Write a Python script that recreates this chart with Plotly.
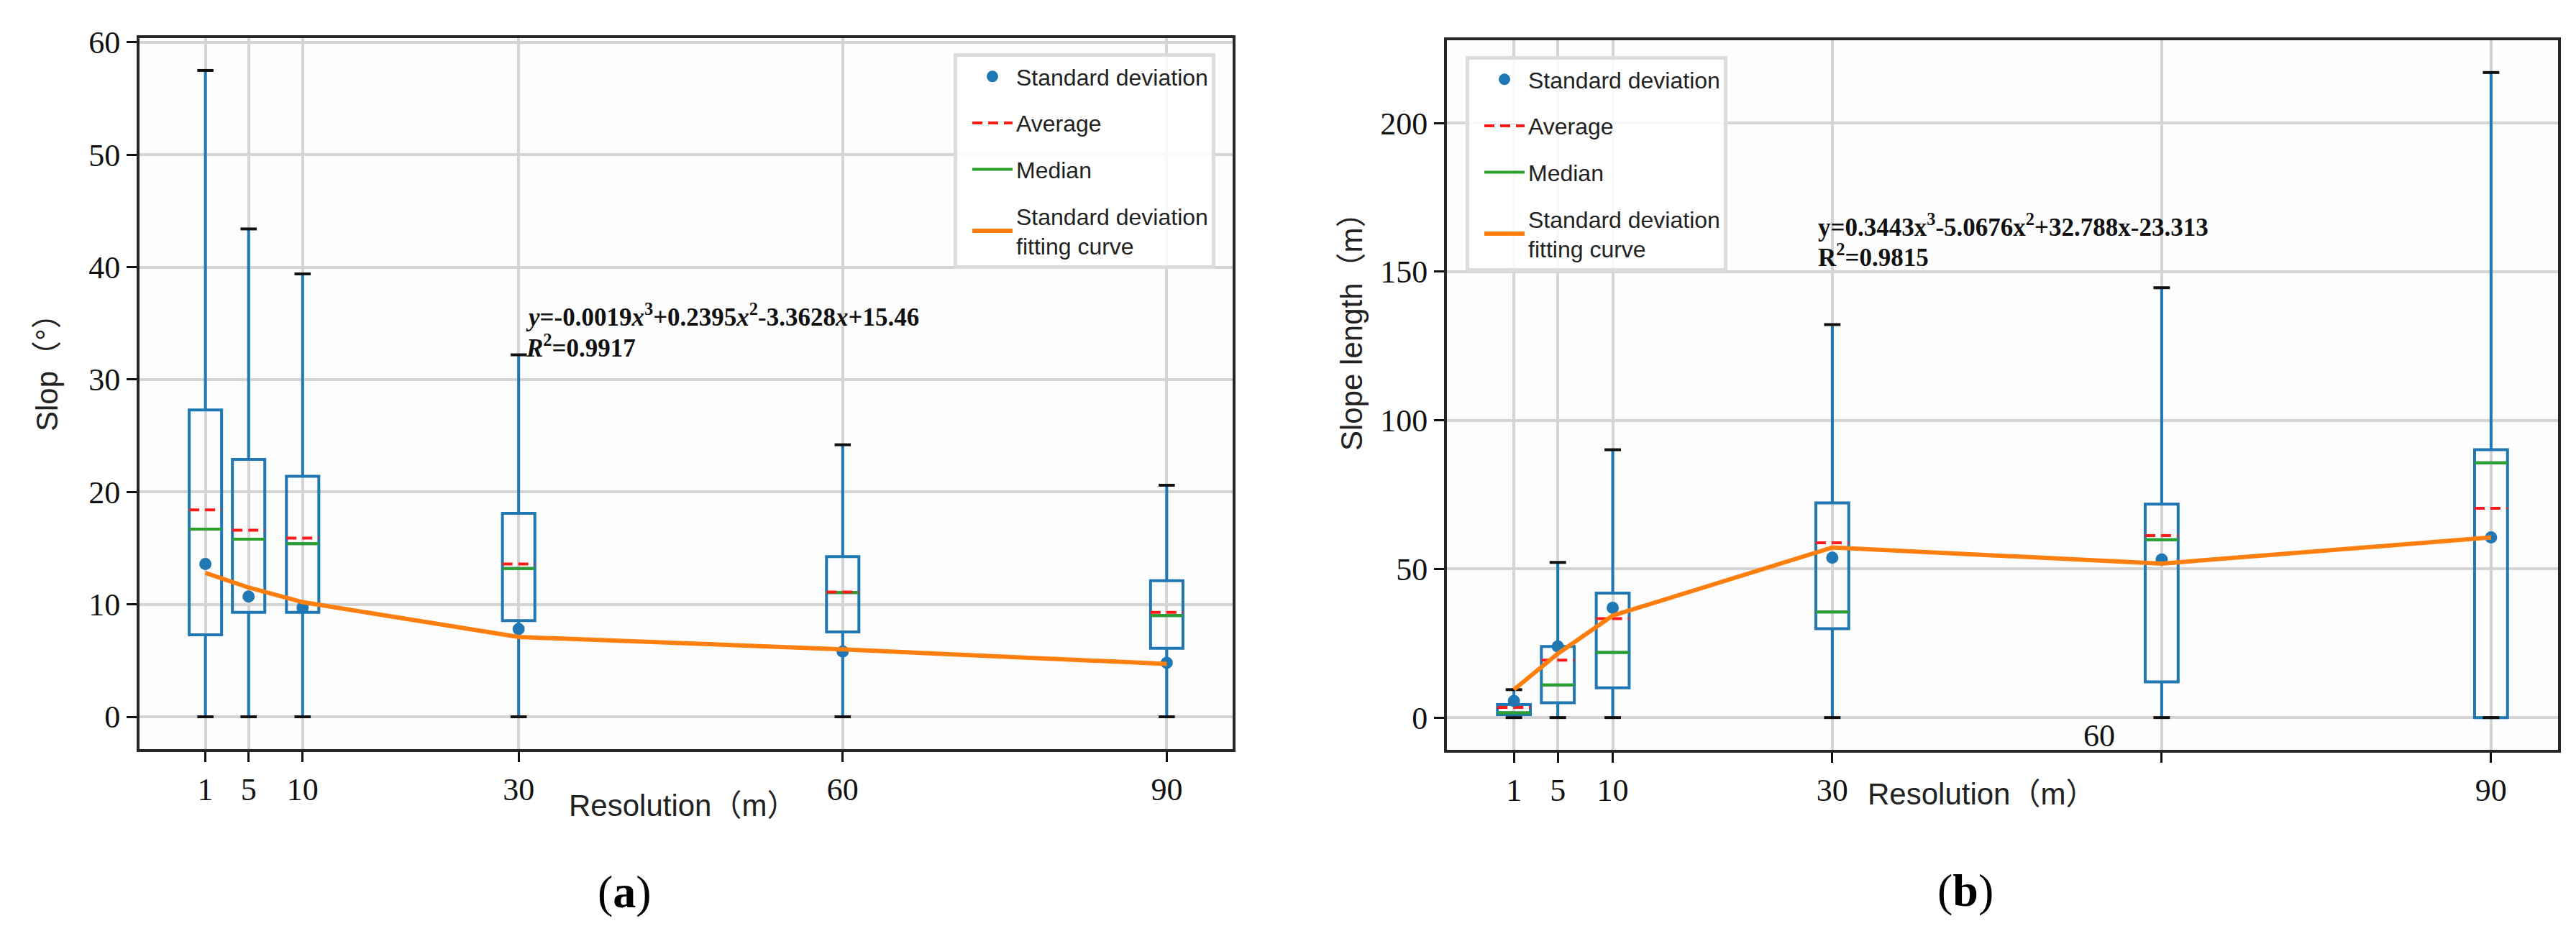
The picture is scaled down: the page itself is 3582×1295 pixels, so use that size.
import plotly.graph_objects as go
from plotly.subplots import make_subplots

# Resolution (m) of each DEM
resolution = [1, 5, 10, 30, 60, 90]

# (a) slope statistics, degrees
slope_low = [0, 0, 0, 0, 0, 0]
slope_q1 = [7.3, 9.3, 9.3, 8.55, 7.55, 6.1]
slope_median = [16.7, 15.8, 15.4, 13.2, 11.05, 9.0]
slope_q3 = [27.3, 22.9, 21.4, 18.1, 14.25, 12.1]
slope_high = [57.5, 43.4, 39.4, 32.2, 24.2, 20.6]
slope_mean = [18.4, 16.6, 15.9, 13.6, 11.1, 9.3]
slope_sd = [13.6, 10.7, 9.7, 7.8, 5.8, 4.8]
slope_fit = [12.8, 11.5, 10.2, 7.1, 6.0, 4.7]

# (b) slope length statistics, m
length_low = [0, 0, 0, 0, 0, 0]
length_q1 = [1.0, 5.0, 10.0, 29.9, 12.0, 0.0]
length_median = [1.6, 11.0, 21.9, 35.5, 59.8, 85.7]
length_q3 = [4.4, 23.9, 41.9, 72.2, 71.8, 90.1]
length_high = [9.4, 52.2, 90.1, 132.2, 144.6, 217.0]
length_mean = [3.4, 19.3, 33.3, 58.8, 61.2, 70.4]
length_sd = [5.6, 23.9, 36.9, 53.8, 53.2, 60.6]
length_fit = [9.4, 21.5, 34.3, 57.2, 51.8, 60.6]

# tick labels (the 60 label of panel b sits off its tick in the original)
slope_ticktext = ["1", "5", "10", "30", "60", "90"]
length_ticktext = ["1", "5", "10", "30", "", "90"]

eq_a = ("<b><i>y</i>=-0.0019<i>x</i><sup>3</sup>+0.2395<i>x</i><sup>2</sup>"
        "-3.3628<i>x</i>+15.46</b>")
eq_a2 = "<b><i>R</i><sup>2</sup>=0.9917</b>"
eq_b = "<b>y=0.3443x<sup>3</sup>-5.0676x<sup>2</sup>+32.788x-23.313</b>"
eq_b2 = "<b>R<sup>2</sup>=0.9815</b>"

BLUE = "#1f77b4"
ORANGE = "#ff7f0e"
GREEN = "#2ca02c"
RED = "#ff1a1a"
BOX_W = 3.0
SERIF = "Liberation Serif, Times New Roman, serif"
SANS = "Liberation Sans, Arial, Noto Sans CJK SC, sans-serif"
W, H = 3582, 1295


def px(x):
    return x / W


def py(y):
    return 1 - y / H


def segments(xs, ys, half):
    sx, sy = [], []
    for x, y in zip(xs, ys):
        sx += [x - half, x + half, None]
        sy += [y, y, None]
    return sx, sy


fig = make_subplots(rows=1, cols=2)


def add_panel(col, low, q1, med, q3, high, mean, sd, fit, legend):
    fig.add_trace(go.Box(x=resolution, q1=q1, median=med, q3=q3,
                         lowerfence=low, upperfence=high, width=BOX_W,
                         whiskerwidth=0, fillcolor="rgba(0,0,0,0)",
                         line=dict(color=BLUE, width=4), boxpoints=False,
                         showlegend=False, hoverinfo="skip"),
                  row=1, col=col)
    cx, cy = segments(resolution + resolution, high + low, BOX_W / 4)
    fig.add_trace(go.Scatter(x=cx, y=cy, mode="lines",
                             line=dict(color="#111111", width=4),
                             showlegend=False, hoverinfo="skip"),
                  row=1, col=col)
    mx, my = segments(resolution, med, BOX_W / 2)
    fig.add_trace(go.Scatter(x=mx, y=my, mode="lines", name="Median",
                             line=dict(color=GREEN, width=4),
                             legend=legend, legendgroup="med", legendrank=3),
                  row=1, col=col)
    ax, ay = segments(resolution, mean, BOX_W / 2)
    fig.add_trace(go.Scatter(x=ax, y=ay, mode="lines", name="Average",
                             line=dict(color=RED, width=4, dash="14px,8px"),
                             legend=legend, legendgroup="avg", legendrank=2),
                  row=1, col=col)
    fig.add_trace(go.Scatter(x=resolution, y=sd, mode="markers",
                             name="Standard deviation",
                             marker=dict(color=BLUE, size=17),
                             legend=legend, legendgroup="sd", legendrank=1),
                  row=1, col=col)
    fig.add_trace(go.Scatter(x=resolution, y=fit, mode="lines",
                             name="Standard deviation<br>fitting curve",
                             line=dict(color=ORANGE, width=6),
                             legend=legend, legendgroup="fit", legendrank=4),
                  row=1, col=col)


add_panel(1, slope_low, slope_q1, slope_median, slope_q3, slope_high,
          slope_mean, slope_sd, slope_fit, "legend")
add_panel(2, length_low, length_q1, length_median, length_q3, length_high,
          length_mean, length_sd, length_fit, "legend2")

lo = min(resolution) - BOX_W / 2
hi = max(resolution) + BOX_W / 2
pad = 0.05 * (hi - lo)
xrange = [lo - pad, hi + pad]

axis_style = dict(showline=True, mirror=True, linecolor="#262626", linewidth=4,
                  ticks="outside", ticklen=14, tickwidth=3, tickcolor="#111111",
                  showgrid=True, gridcolor="#d4d4d4", gridwidth=3.5,
                  zeroline=False, automargin=False,
                  tickfont=dict(family=SERIF, size=44, color="#111111"))

fig.update_xaxes(axis_style)
fig.update_yaxes(axis_style)
fig.update_xaxes(domain=[px(186), px(1706)], range=xrange,
                 tickvals=resolution, ticktext=slope_ticktext, row=1, col=1)
fig.update_xaxes(domain=[px(2004), px(3549)], range=xrange,
                 tickvals=resolution, ticktext=length_ticktext, row=1, col=2)
fig.update_yaxes(domain=[py(1034), py(45)], range=[-2.875, 60.375],
                 tickvals=[0, 10, 20, 30, 40, 50, 60], row=1, col=1)
fig.update_yaxes(domain=[py(1035), py(48)], range=[-10.85, 227.85],
                 tickvals=[0, 50, 100, 150, 200], row=1, col=2)

legend_style = dict(xanchor="left", yanchor="top", bgcolor="rgba(255,255,255,0.85)",
                    bordercolor="#dcdcdc", borderwidth=5, tracegroupgap=20,
                    traceorder="grouped", itemwidth=56, indentation=16,
                    font=dict(family=SANS, size=32, color="#222222"))

fig.update_layout(
    width=W, height=H, autosize=False,
    margin=dict(l=0, r=0, t=0, b=0, pad=0, autoexpand=False),
    paper_bgcolor="white", plot_bgcolor="#fdfdfd",
    legend=dict(legend_style, x=px(1318), y=py(66)),
    legend2=dict(legend_style, x=px(2030), y=py(70)),
)

title_font = dict(family=SANS, size=42, color="#222222")
notes = [
    dict(text="Slop（°）", x=px(57), y=py(500), textangle=-90, font=title_font),
    dict(text="Slope length（m）", x=px(1871), y=py(443), textangle=-90, font=title_font),
    dict(text="Resolution（m）", x=px(941), y=py(1112), font=title_font),
    dict(text="Resolution（m）", x=px(2747), y=py(1096), font=title_font),
    dict(text="(<b>a</b>)", x=px(860), y=py(1232),
         font=dict(family=SERIF, size=64, color="black")),
    dict(text="(<b>b</b>)", x=px(2725), y=py(1230),
         font=dict(family=SERIF, size=64, color="black")),
]
for n in notes:
    fig.add_annotation(xref="paper", yref="paper", showarrow=False,
                       xanchor="center", yanchor="middle", **n)

eq_font = dict(family=SERIF, size=35, color="#111111")
fig.add_annotation(text=eq_a, x=30.5, y=35.7, xref="x", yref="y", xanchor="left",
                   showarrow=False, font=eq_font)
fig.add_annotation(text=eq_a2, x=30.5, y=33.0, xref="x", yref="y", xanchor="left",
                   showarrow=False, font=eq_font)
fig.add_annotation(text=eq_b, x=28.6, y=165.5, xref="x2", yref="y2", xanchor="left",
                   showarrow=False, font=eq_font)
fig.add_annotation(text=eq_b2, x=28.6, y=155.3, xref="x2", yref="y2", xanchor="left",
                   showarrow=False, font=eq_font)
# misplaced "60" tick label of panel (b)
fig.add_annotation(text="60", x=54.3, y=py(1042), xref="x2", yref="paper",
                   showarrow=False, font=dict(family=SERIF, size=44, color="#111111"))

fig.write_html("out.html")
